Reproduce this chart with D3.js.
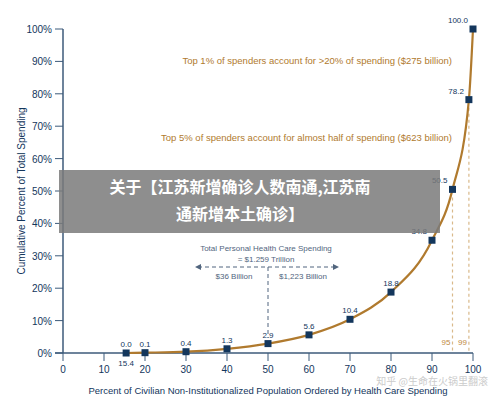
<!DOCTYPE html>
<html><head><meta charset="utf-8">
<script src="https://cdn.jsdelivr.net/npm/d3@7"></script>
<style>body{margin:0;background:#fff}</style>
</head><body><svg width="500" height="403"></svg>
<script>
var pop = [15.4, 20, 30, 40, 50, 60, 70, 80, 90, 95, 99, 100];
var share = [0.0, 0.1, 0.4, 1.3, 2.9, 5.6, 10.4, 18.8, 34.8, 50.5, 78.2, 100.0];
var labels = ["0.0", "0.1", "0.4", "1.3", "2.9", "5.6", "10.4", "18.8", "34.8", "50.5", "78.2", "100.0"];
var xTicks = [0, 10, 20, 30, 40, 50, 60, 70, 80, 90, 100];
var yTicks = [0, 10, 20, 30, 40, 50, 60, 70, 80, 90, 100];

var svg = d3.select("svg"), blue = "#3c5a7a", navy = "#13365c", gold = "#b07a2e", font = "Liberation Sans Narrow, Liberation Sans, sans-serif";
var x = d3.scaleLinear().domain([0, 100]).range([63, 473]);
var y = d3.scaleLinear().domain([0, 100]).range([353, 29]);

// axes
svg.append("line").attr("x1", 63).attr("x2", 63).attr("y1", 29).attr("y2", 353).attr("stroke", blue).attr("stroke-width", 1.5);
svg.append("line").attr("x1", 55).attr("x2", 473).attr("y1", 353).attr("y2", 353).attr("stroke", blue).attr("stroke-width", 1.5);
svg.selectAll(".yt").data(yTicks).enter().append("line").attr("x1", 55).attr("x2", 63)
  .attr("y1", d => y(d)).attr("y2", d => y(d)).attr("stroke", blue);
svg.selectAll(".yl").data(yTicks).enter().append("text").attr("x", 52).attr("y", d => y(d) + 4)
  .attr("text-anchor", "end").attr("font-size", 10).attr("font-family", font).attr("fill", navy).text(d => d + "%");
svg.selectAll(".xt").data(xTicks).enter().append("line").attr("x1", d => x(d)).attr("x2", d => x(d))
  .attr("y1", 353).attr("y2", 361).attr("stroke", blue);
svg.selectAll(".xl").data(xTicks).enter().append("text").attr("x", d => x(d)).attr("y", 373)
  .attr("text-anchor", "middle").attr("font-size", 10).attr("font-family", font).attr("fill", navy).text(d => d);
svg.append("text").attr("x", 268).attr("y", 394).attr("text-anchor", "middle").attr("font-size", 9.5)
  .attr("font-family", font).attr("fill", navy).text("Percent of Civilian Non-Institutionalized Population Ordered by Health Care Spending");
svg.append("text").attr("transform", "translate(25,191) rotate(-90)").attr("text-anchor", "middle").attr("font-size", 10)
  .attr("font-family", font).attr("fill", navy).text("Cumulative Percent of Total Spending");

// dashed guides at 95 and 99
[95, 99].forEach(function (p, i) {
  svg.append("line").attr("x1", x(p)).attr("x2", x(p)).attr("y1", y(share[9 + i]) + 8).attr("y2", 353)
    .attr("stroke", "#d9b98a").attr("stroke-dasharray", "3,3").attr("stroke-width", 1.2);
  svg.append("text").attr("x", x(p) - 2).attr("y", 345).attr("text-anchor", "end").attr("font-size", 8)
    .attr("font-family", font).attr("fill", "#c08a40").text(p);
});

// curve
var pts = pop.map((p, i) => [p, share[i]]);
svg.append("path").datum(pts).attr("fill", "none").attr("stroke", gold).attr("stroke-width", 2.2)
  .attr("d", d3.line().x(d => x(d[0])).y(d => y(d[1])).curve(d3.curveMonotoneX));
svg.selectAll(".pt").data(pts).enter().append("rect").attr("x", d => x(d[0]) - 3.5).attr("y", d => y(d[1]) - 3.5)
  .attr("width", 7).attr("height", 7).attr("fill", navy);
svg.selectAll(".pl").data(pts).enter().append("text")
  .attr("x", (d, i) => i >= 8 ? x(d[0]) - 5 : x(d[0]))
  .attr("y", d => y(d[1]) - 6)
  .attr("text-anchor", (d, i) => i >= 8 ? "end" : "middle").attr("font-size", 8).attr("font-family", font).attr("fill", navy)
  .text((d, i) => labels[i]);
svg.append("text").attr("x", x(15.4)).attr("y", 366).attr("text-anchor", "middle").attr("font-size", 8)
  .attr("font-family", font).attr("fill", navy).text("15.4");

// annotations
svg.append("text").attr("x", 452).attr("y", 64).attr("text-anchor", "end").attr("font-size", 9.5)
  .attr("font-family", font).attr("fill", gold).text("Top 1% of spenders account for >20% of spending ($275 billion)");
svg.append("text").attr("x", 452).attr("y", 141).attr("text-anchor", "end").attr("font-size", 9.5)
  .attr("font-family", font).attr("fill", gold).text("Top 5% of spenders account for almost half of spending ($623 billion)");
svg.append("text").attr("x", 266).attr("y", 251).attr("text-anchor", "middle").attr("font-size", 8)
  .attr("font-family", font).attr("fill", "#51657e").text("Total Personal Health Care Spending");
svg.append("text").attr("x", 266).attr("y", 262).attr("text-anchor", "middle").attr("font-size", 8)
  .attr("font-family", font).attr("fill", "#51657e").text("= $1.259 Trillion");
svg.append("line").attr("x1", 198).attr("x2", 336).attr("y1", 267).attr("y2", 267).attr("stroke", "#51657e").attr("stroke-dasharray", "4,3");
svg.append("path").attr("d", "M195,267 l6,-3 v6 z").attr("fill", "#51657e");
svg.append("path").attr("d", "M339,267 l-6,-3 v6 z").attr("fill", "#51657e");
svg.append("line").attr("x1", x(50)).attr("x2", x(50)).attr("y1", 267).attr("y2", 338).attr("stroke", "#51657e").attr("stroke-dasharray", "4,3");
svg.append("text").attr("x", 234).attr("y", 279).attr("text-anchor", "middle").attr("font-size", 8)
  .attr("font-family", font).attr("fill", "#51657e").text("$36 Billion");
svg.append("text").attr("x", 303).attr("y", 279).attr("text-anchor", "middle").attr("font-size", 8)
  .attr("font-family", font).attr("fill", "#51657e").text("$1,223 Billion");

// watermark + overlay
svg.append("text").attr("x", 488).attr("y", 385).attr("text-anchor", "end").attr("font-size", 10)
  .attr("font-family", "Noto Sans CJK SC").attr("fill", "#cccccc").text("知乎 @生命在火锅里翻滚");
svg.append("rect").attr("x", 59).attr("y", 170).attr("width", 381).attr("height", 63).attr("fill", "#7a7a7a").attr("opacity", 0.85);
svg.append("text").attr("x", 240).attr("y", 193).attr("text-anchor", "middle").attr("font-size", 16).attr("font-weight", "bold")
  .attr("font-family", "Noto Sans CJK SC").attr("fill", "#fff").text("关于【江苏新增确诊人数南通,江苏南");
svg.append("text").attr("x", 240).attr("y", 220).attr("text-anchor", "middle").attr("font-size", 16).attr("font-weight", "bold")
  .attr("font-family", "Noto Sans CJK SC").attr("fill", "#fff").text("通新增本土确诊】");
</script></body></html>
